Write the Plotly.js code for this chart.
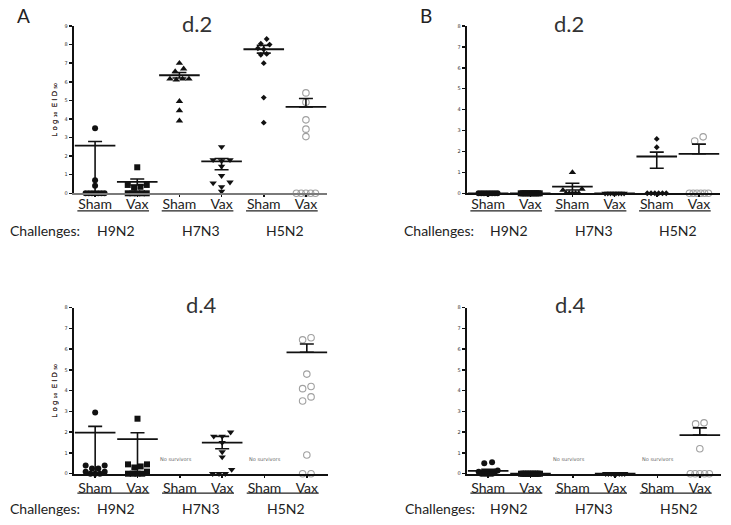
<!DOCTYPE html>
<html><head><meta charset="utf-8">
<script src="https://cdn.plot.ly/plotly-3.0.1.min.js"></script>
<style>html,body{margin:0;padding:0;background:#fff;}#chart{width:731px;height:525px;}</style>
</head><body><div id="chart"></div>
<script>
const columns = ['Sham','Vax','Sham','Vax','Sham','Vax'];
const challenges = ['H9N2','H7N3','H5N2'];

// Panel A, day 2 (Log10 EID50 per bird)
const aD2ShamH9N2 = [3.5, 0.7, 0.4, 0, 0, 0, 0, 0, 0, 0];
const aD2VaxH9N2  = [1.4, 0.45, 0.45, 0.35, 0.3, 0, 0, 0, 0, 0];
const aD2ShamH7N3 = [7.0, 6.7, 6.55, 6.15, 6.15, 6.15, 6.1, 4.95, 4.45, 3.9];
const aD2VaxH7N3  = [2.5, 1.8, 1.8, 1.75, 1.45, 0.95, 0.6, 0.55, 0.35, 0.1];
const aD2ShamH5N2 = [8.3, 8.05, 8.0, 7.8, 7.75, 7.5, 7.45, 7.0, 5.15, 3.8];
const aD2VaxH5N2  = [5.4, 4.9, 3.95, 3.45, 3.05, 0, 0, 0, 0, 0];
const aD2Mean    = [2.57, 0.61, 6.35, 1.72, 7.75, 4.65];
const aD2SemUp   = [0.22, 0.16, 0.15, 0.15, 0.21, 0.45];
const aD2SemDown = [2.57, 0.16, 0.15, 0.45, 0.21, 0];

// Panel B, day 2
const bD2ShamH9N2 = [0, 0, 0, 0, 0, 0, 0, 0];
const bD2VaxH9N2  = [0, 0, 0, 0, 0, 0, 0, 0, 0, 0, 0];
const bD2ShamH7N3 = [1.0, 0.2, 0.15, 0, 0, 0, 0, 0];
const bD2VaxH7N3  = [0, 0, 0, 0, 0, 0, 0, 0];
const bD2ShamH5N2 = [2.6, 2.2, 0, 0, 0, 0, 0, 0];
const bD2VaxH5N2  = [2.7, 2.5, 0, 0, 0, 0, 0, 0];
const bD2Mean    = [0, 0, 0.32, 0, 1.76, 1.89];
const bD2SemUp   = [0, 0, 0.16, 0, 0.21, 0.46];
const bD2SemDown = [0, 0, 0.16, 0, 0.56, 0];

// Panel A, day 4
const aD4ShamH9N2 = [2.95, 0.4, 0.4, 0.25, 0.25, 0.1, 0.1, 0, 0, 0];
const aD4VaxH9N2  = [2.65, 0.45, 0.45, 0.35, 0.3, 0.1, 0, 0, 0, 0];
const aD4ShamH7N3 = [];
const aD4VaxH7N3  = [2.0, 1.8, 1.8, 1.5, 1.05, 0.8, 0.2, 0, 0, 0];
const aD4ShamH5N2 = [];
const aD4VaxH5N2  = [6.55, 6.45, 4.8, 4.2, 4.1, 3.7, 3.5, 0.9, 0, 0];
const aD4Mean    = [1.98, 1.67, null, 1.5, null, 5.85];
const aD4SemUp   = [0.3, 0.3, null, 0.3, null, 0.4];
const aD4SemDown = [1.98, 1.67, null, 0.3, null, 0];

// Panel B, day 4
const bD4ShamH9N2 = [0.55, 0.5, 0.15, 0.1, 0.1, 0, 0, 0, 0, 0];
const bD4VaxH9N2  = [0, 0, 0, 0, 0, 0, 0, 0, 0, 0, 0, 0];
const bD4ShamH7N3 = [];
const bD4VaxH7N3  = [0, 0, 0, 0, 0, 0, 0, 0];
const bD4ShamH5N2 = [];
const bD4VaxH5N2  = [2.45, 2.4, 1.2, 0, 0, 0, 0, 0];
const bD4Mean    = [0.14, 0, null, 0, null, 1.86];
const bD4SemUp   = [0.07, 0, null, 0, null, 0.35];
const bD4SemDown = [0.07, 0, null, 0, null, 0];

const noSurvivorsText = 'No survivors';
const yTitleText = 'L o g ₁₀  E I D ₅₀';

// ---------- layout helpers ----------
const W = 731, H = 525;
const FONT = 'Lato, "Open Sans", sans-serif';
const px = v => v / W;
const py = v => 1 - v / H;

const symbols = ['circle', 'square', 'triangle-up', 'triangle-down', 'diamond', 'circle-open'];
const mColors = ['#111', '#111', '#111', '#111', '#111', '#a0a0a0'];
const mSizes  = [6, 6, 6.5, 6.5, 4.5, 6.5];

const panels = [
  {k: '',  letter: 'A', letterX: 23,  title: 'd.2', tX: 197, tY: 24,  x0: 74,  x1: 327, yTop: 26,    yBot: 193.3, ymax: 9, xline: '#7a7a7a',
   data: [aD2ShamH9N2, aD2VaxH9N2, aD2ShamH7N3, aD2VaxH7N3, aD2ShamH5N2, aD2VaxH5N2], mean: aD2Mean, up: aD2SemUp, down: aD2SemDown, chY: 230, ulOff: 17.5, chX: 8, lblShift: -5},
  {k: '2', letter: 'B', letterX: 426, title: 'd.2', tX: 569, tY: 24,  x0: 467, x1: 720, yTop: 26,    yBot: 193.3, ymax: 8, xline: '#111',
   data: [bD2ShamH9N2, bD2VaxH9N2, bD2ShamH7N3, bD2VaxH7N3, bD2ShamH5N2, bD2VaxH5N2], mean: bD2Mean, up: bD2SemUp, down: bD2SemDown, chY: 230, ulOff: 17.5, chX: 402, lblShift: -5},
  {k: '3', title: 'd.4', tX: 201, tY: 304, x0: 74,  x1: 328, yTop: 307.7, yBot: 473.7, ymax: 8, xline: '#111',
   data: [aD4ShamH9N2, aD4VaxH9N2, aD4ShamH7N3, aD4VaxH7N3, aD4ShamH5N2, aD4VaxH5N2], mean: aD4Mean, up: aD4SemUp, down: aD4SemDown, chY: 508, ulOff: 19.5, chX: 8, lblShift: -2},
  {k: '4', title: 'd.4', tX: 570, tY: 304, x0: 467, x1: 721, yTop: 307.7, yBot: 473.7, ymax: 8, xline: '#111',
   data: [bD4ShamH9N2, bD4VaxH9N2, bD4ShamH7N3, bD4VaxH7N3, bD4ShamH5N2, bD4VaxH5N2], mean: bD4Mean, up: bD4SemUp, down: bD4SemDown, chY: 508, ulOff: 19.5, chX: 403, lblShift: -2}
];

// deterministic dot-plot spreading (GraphPad-like)
function spreadOffsets(vals, pxPerUnitY, markerPx, maxSpan) {
  const idx = vals.map((v, i) => i).sort((a, b) => vals[b] - vals[a]);
  const thr = 5 / pxPerUnitY;
  const rows = []; let cur = null;
  idx.forEach(i => {
    if (cur && cur.start - vals[i] <= thr) cur.items.push(i);
    else { cur = {start: vals[i], items: [i]}; rows.push(cur); }
  });
  const off = new Array(vals.length).fill(0);
  rows.forEach(r => {
    const n = r.items.length;
    const step = n > 1 ? Math.min(markerPx * 1.3, maxSpan / (n - 1)) : 0;
    const slots = [];
    for (let j = 0; j < n; j++) slots.push((j - (n - 1) / 2) * step);
    slots.sort((a, b) => Math.abs(a) - Math.abs(b));
    const items = r.items.slice().sort((a, b) => vals[a] - vals[b]);
    items.forEach((i, j) => { off[i] = slots[j]; });
  });
  return off;
}

const traces = [];
const layout = {
  width: W, height: H, margin: {l: 0, r: 0, t: 0, b: 0},
  paper_bgcolor: '#fff', plot_bgcolor: 'rgba(0,0,0,0)', showlegend: false,
  font: {family: FONT, color: '#222'},
  annotations: [], shapes: []
};

panels.forEach(p => {
  const xa = 'x' + p.k, ya = 'y' + p.k;
  const pxX = (p.x1 - p.x0) / 6;
  const pxY = (p.yBot - p.yTop) / p.ymax;
  layout['xaxis' + p.k] = {
    domain: [px(p.x0), px(p.x1)], range: [-0.5, 5.5], anchor: ya,
    tickmode: 'array', tickvals: columns.map((c, i) => i), ticktext: columns,
    tickfont: {family: FONT, size: 14, color: '#222'}, ticklabelstandoff: p.lblShift,
    ticks: 'outside', ticklen: 2, tickwidth: 1.5, tickcolor: '#111',
    showline: true, linecolor: p.xline, linewidth: 2,
    showgrid: false, zeroline: false, fixedrange: true
  };
  layout['yaxis' + p.k] = {
    domain: [py(p.yBot), py(p.yTop)], range: [0, p.ymax], anchor: xa,
    tickmode: 'linear', tick0: 0, dtick: 1,
    ticks: 'outside', ticklen: 3, tickwidth: 1.5, tickcolor: '#111',
    tickfont: {family: 'DejaVu Sans', size: 5, color: '#333'},
    showline: true, linecolor: '#111', linewidth: 2.2,
    showgrid: false, zeroline: false, fixedrange: true
  };

  p.data.forEach((vals, c) => {
    if (!vals.length) {
      layout.annotations.push({xref: xa, yref: ya, x: c, y: 0.72, text: noSurvivorsText,
        showarrow: false, font: {family: 'DejaVu Sans', size: 5, color: '#666'}, xanchor: 'center', yanchor: 'middle',
        xshift: c === 2 ? -4 : 0});
      return;
    }
    const off = spreadOffsets(vals, pxY, mSizes[c], 19);
    traces.push({
      type: 'scatter', mode: 'markers', xaxis: xa, yaxis: ya, cliponaxis: false, hoverinfo: 'skip',
      x: vals.map((v, i) => c + off[i] / pxX), y: vals,
      marker: {symbol: symbols[c], size: mSizes[c], color: mColors[c],
               line: {width: c === 5 ? 1.1 : 0, color: mColors[c]}}
    });
  });

  const mi = p.mean.map((m, i) => i).filter(i => p.mean[i] !== null);
  traces.push({
    type: 'scatter', mode: 'markers', xaxis: xa, yaxis: ya, cliponaxis: false, hoverinfo: 'skip',
    x: mi, y: mi.map(i => p.mean[i]),
    marker: {symbol: 'line-ew', size: 29, color: '#111', line: {width: 1.8, color: '#111'}},
    error_y: {type: 'data', symmetric: false, array: mi.map(i => p.up[i]), arrayminus: mi.map(i => p.down[i]),
              width: 7, thickness: 1.6, color: '#111'}
  });

  // panel title
  layout.annotations.push({xref: 'paper', yref: 'paper', x: px(p.tX), y: py(p.tY), text: p.title,
    showarrow: false, xanchor: 'center', yanchor: 'middle', font: {family: FONT, size: 22, color: '#333'}});
  if (p.letter) {
    layout.annotations.push({xref: 'paper', yref: 'paper', x: px(p.letterX), y: py(15), text: p.letter,
      showarrow: false, xanchor: 'center', yanchor: 'middle', font: {family: FONT, size: 19, color: '#222'}});
  }
  // y title
  layout.annotations.push({xref: 'paper', yref: 'paper', x: px(55), y: py((p.yTop + p.yBot) / 2),
    text: yTitleText, textangle: -90, showarrow: false,
    xanchor: 'center', yanchor: 'middle', font: {family: 'DejaVu Sans', size: 7, color: '#3b2b2b'}});
  // challenges row
  layout.annotations.push({xref: 'paper', yref: 'paper', x: px(p.chX), y: py(p.chY), text: 'Challenges:',
    showarrow: false, xanchor: 'left', yanchor: 'middle', font: {family: FONT, size: 14, color: '#222'}});
  challenges.forEach((ch, g) => {
    layout.annotations.push({xref: xa, yref: 'paper', x: 2 * g + 0.5, y: py(p.chY), text: ch,
      showarrow: false, xanchor: 'center', yanchor: 'middle', font: {family: FONT, size: 14, color: '#222'}});
    layout.shapes.push({type: 'line', xref: xa, yref: 'paper', x0: 2 * g - 0.42, x1: 2 * g + 1.28,
      y0: py(p.yBot + p.ulOff), y1: py(p.yBot + p.ulOff), line: {color: '#222', width: 1.2}});
  });
});

Plotly.newPlot('chart', traces, layout, {staticPlot: true, displayModeBar: false});
</script>
</body></html>
